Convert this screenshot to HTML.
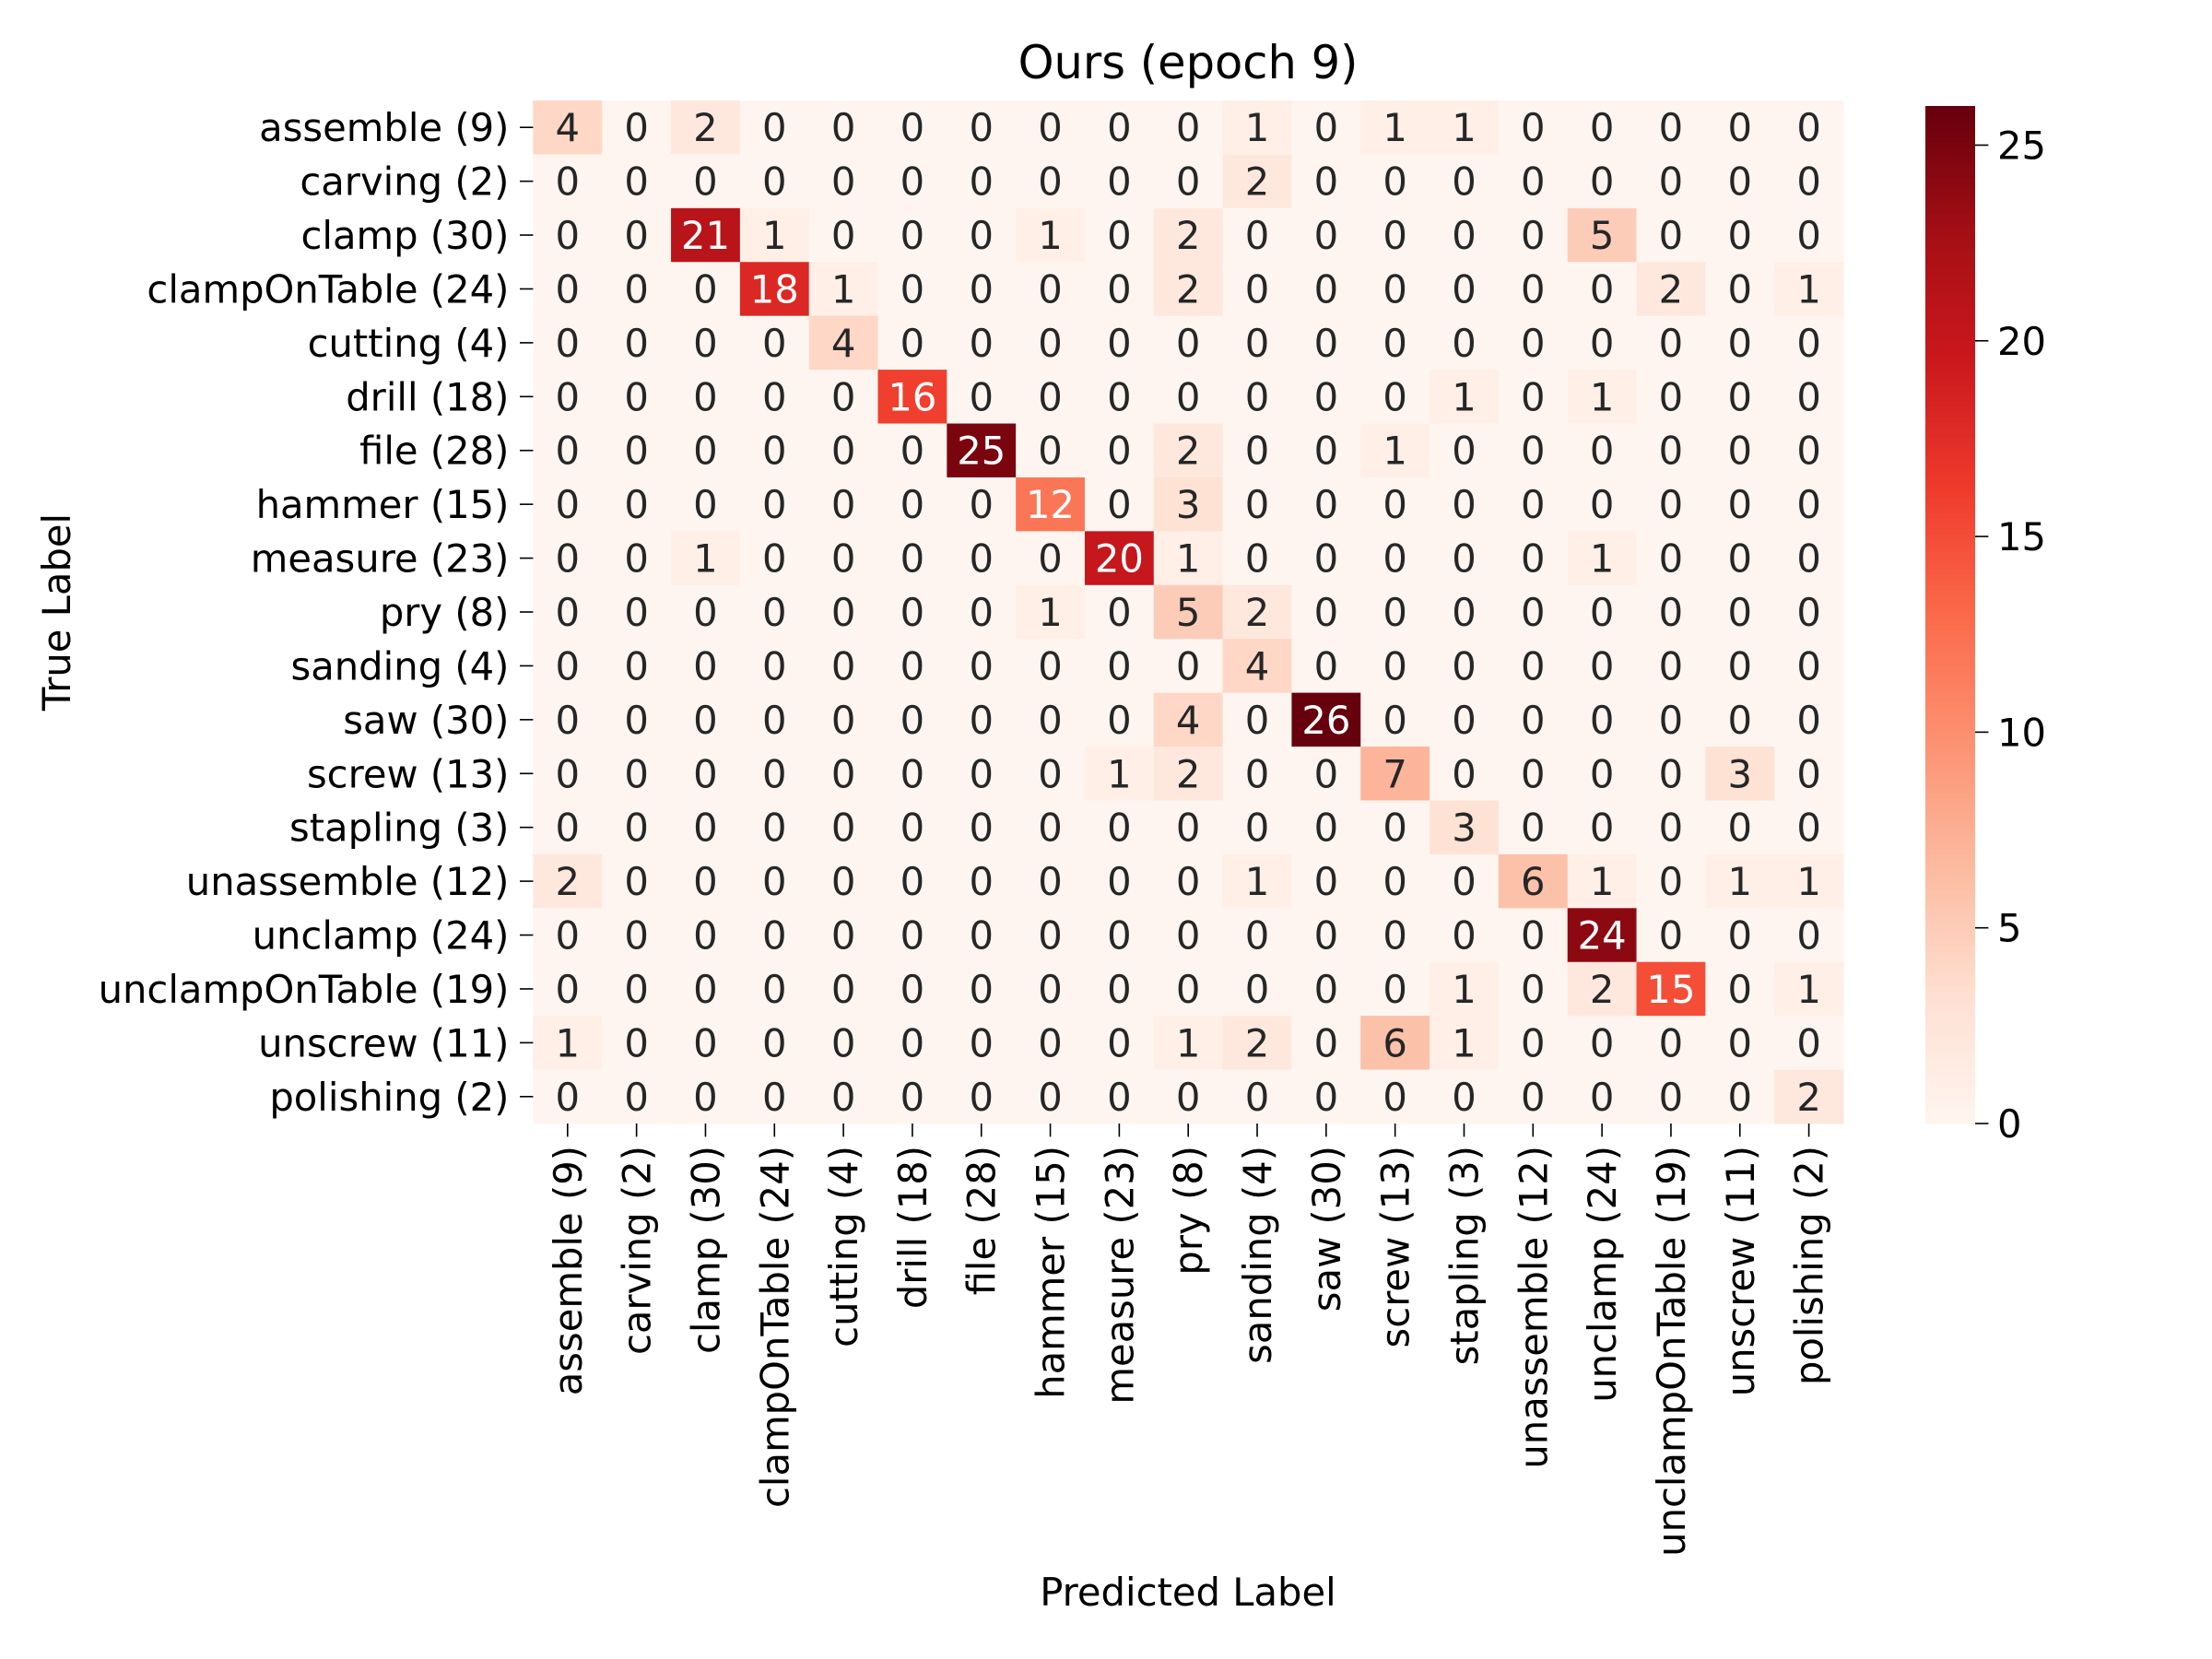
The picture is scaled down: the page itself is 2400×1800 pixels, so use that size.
<!DOCTYPE html>
<html><head><meta charset="utf-8"><style>
html,body{margin:0;padding:0;background:#fff;}
svg{display:block;font-family:"DejaVu Sans","Liberation Sans",sans-serif;}
</style></head><body>
<svg id="chart" width="2400" height="1800" viewBox="0 0 2400 1800" xmlns="http://www.w3.org/2000/svg">
<rect width="2400" height="1800" fill="#fff"/>
<text x="1289" y="85" font-size="49.5" text-anchor="middle" fill="#000">Ours (epoch 9)</text>
<text transform="translate(76,664) rotate(-90)" font-size="41.7" text-anchor="middle">True Label</text>
<text x="1289" y="1742" font-size="41.7" text-anchor="middle">Predicted Label</text>
<g id="cells"></g>
<g id="ylabels"></g>
<g id="xlabels"></g>
<g id="cbar"></g>
</svg>
<script>
const categories = ["assemble (9)","carving (2)","clamp (30)","clampOnTable (24)","cutting (4)","drill (18)","file (28)","hammer (15)","measure (23)","pry (8)","sanding (4)","saw (30)","screw (13)","stapling (3)","unassemble (12)","unclamp (24)","unclampOnTable (19)","unscrew (11)","polishing (2)"];
const row0 = [4,0,2,0,0,0,0,0,0,0,1,0,1,1,0,0,0,0,0];
const row1 = [0,0,0,0,0,0,0,0,0,0,2,0,0,0,0,0,0,0,0];
const row2 = [0,0,21,1,0,0,0,1,0,2,0,0,0,0,0,5,0,0,0];
const row3 = [0,0,0,18,1,0,0,0,0,2,0,0,0,0,0,0,2,0,1];
const row4 = [0,0,0,0,4,0,0,0,0,0,0,0,0,0,0,0,0,0,0];
const row5 = [0,0,0,0,0,16,0,0,0,0,0,0,0,1,0,1,0,0,0];
const row6 = [0,0,0,0,0,0,25,0,0,2,0,0,1,0,0,0,0,0,0];
const row7 = [0,0,0,0,0,0,0,12,0,3,0,0,0,0,0,0,0,0,0];
const row8 = [0,0,1,0,0,0,0,0,20,1,0,0,0,0,0,1,0,0,0];
const row9 = [0,0,0,0,0,0,0,1,0,5,2,0,0,0,0,0,0,0,0];
const row10 = [0,0,0,0,0,0,0,0,0,0,4,0,0,0,0,0,0,0,0];
const row11 = [0,0,0,0,0,0,0,0,0,4,0,26,0,0,0,0,0,0,0];
const row12 = [0,0,0,0,0,0,0,0,1,2,0,0,7,0,0,0,0,3,0];
const row13 = [0,0,0,0,0,0,0,0,0,0,0,0,0,3,0,0,0,0,0];
const row14 = [2,0,0,0,0,0,0,0,0,0,1,0,0,0,6,1,0,1,1];
const row15 = [0,0,0,0,0,0,0,0,0,0,0,0,0,0,0,24,0,0,0];
const row16 = [0,0,0,0,0,0,0,0,0,0,0,0,0,1,0,2,15,0,1];
const row17 = [1,0,0,0,0,0,0,0,0,1,2,0,6,1,0,0,0,0,0];
const row18 = [0,0,0,0,0,0,0,0,0,0,0,0,0,0,0,0,0,0,2];
const matrix = [row0,row1,row2,row3,row4,row5,row6,row7,row8,row9,row10,row11,row12,row13,row14,row15,row16,row17,row18];
const cbarTicks = [0,5,10,15,20,25];

const NS="http://www.w3.org/2000/svg";
const L=578.4,R=2000,T=109,B=1219;
const n=categories.length;
const cw=(R-L)/n, ch=(B-T)/n;
const vmin=0, vmax=Math.max(...matrix.flat());
const xPos=i=>L+i*cw, yPos=i=>T+i*ch;
const stops=["#fff5f0","#fee0d2","#fcbba1","#fc9272","#fb6a4a","#ef3b2c","#cb181d","#a50f15","#67000d"].map(h=>[1,3,5].map(k=>parseInt(h.substr(k,2),16)));
function cmap(v){let t=(v-vmin)/(vmax-vmin);t=Math.max(0,Math.min(1,t))*8;const i=Math.min(7,Math.floor(t)),f=t-i;const c=stops[i].map((a,k)=>a+(stops[i+1][k]-a)*f);return c;}
function rgb(c){return `rgb(${c.map(Math.round).join(",")})`;}
function lum(c){const l=c.map(x=>{x/=255;return x<=0.03928?x/12.92:Math.pow((x+0.055)/1.055,2.4)});return 0.2126*l[0]+0.7152*l[1]+0.0722*l[2];}
function mk(tag,attrs,parent){const e=document.createElementNS(NS,tag);for(const k in attrs)e.setAttribute(k,attrs[k]);parent.appendChild(e);return e;}
const cells=document.getElementById('cells');
matrix.forEach((row,r)=>row.forEach((v,c)=>{
  const col=cmap(v);
  const rc=mk('rect',{x:xPos(c),y:yPos(r),width:cw+0.6,height:ch+0.6,fill:rgb(col)},cells);
  
  
  const tx=mk('text',{x:xPos(c)+cw/2,y:yPos(r)+ch/2+15,'font-size':41.7,'text-anchor':'middle',fill:lum(col)>0.408?'#262626':'#fff'},cells);
  tx.textContent=v;
  
  
}));
const yl=document.getElementById('ylabels'), xl=document.getElementById('xlabels');
categories.forEach((name,i)=>{
  const cy=yPos(i)+ch/2;
  mk('line',{x1:L-14.4,x2:L,y1:cy,y2:cy,stroke:'#000','stroke-width':1.6},yl);
  const t=mk('text',{x:L-26,y:cy+15,'font-size':41.7,'text-anchor':'end'},yl);
  t.textContent=name;
  
  
  const cx=xPos(i)+cw/2;
  mk('line',{x1:cx,x2:cx,y1:B,y2:B+14.4,stroke:'#000','stroke-width':1.6},xl);
  const t2=mk('text',{transform:`translate(${cx+15},${B+24}) rotate(-90)`,'font-size':41.7,'text-anchor':'end'},xl);
  t2.textContent=name;
  
  
});
const cb=document.getElementById('cbar');
const CL=2089,CR=2143,CT=115,CB=1219;
const cy=v=>CB-(v-vmin)/(vmax-vmin)*(CB-CT);
for(let k=0;k<200;k++){const v0=vmin+(vmax-vmin)*k/200,v1=vmin+(vmax-vmin)*(k+1)/200;
  mk('rect',{x:CL,y:cy(v1),width:CR-CL,height:cy(v0)-cy(v1)+0.8,fill:rgb(cmap((v0+v1)/2))},cb);}
cbarTicks.forEach(v=>{
  mk('line',{x1:CR,x2:CR+14.4,y1:cy(v),y2:cy(v),stroke:'#000','stroke-width':1.6},cb);
  const t=mk('text',{x:CR+24,y:cy(v)+15,'font-size':41.7},cb);
  t.textContent=v;
  
  
});
</script>
</body></html>
